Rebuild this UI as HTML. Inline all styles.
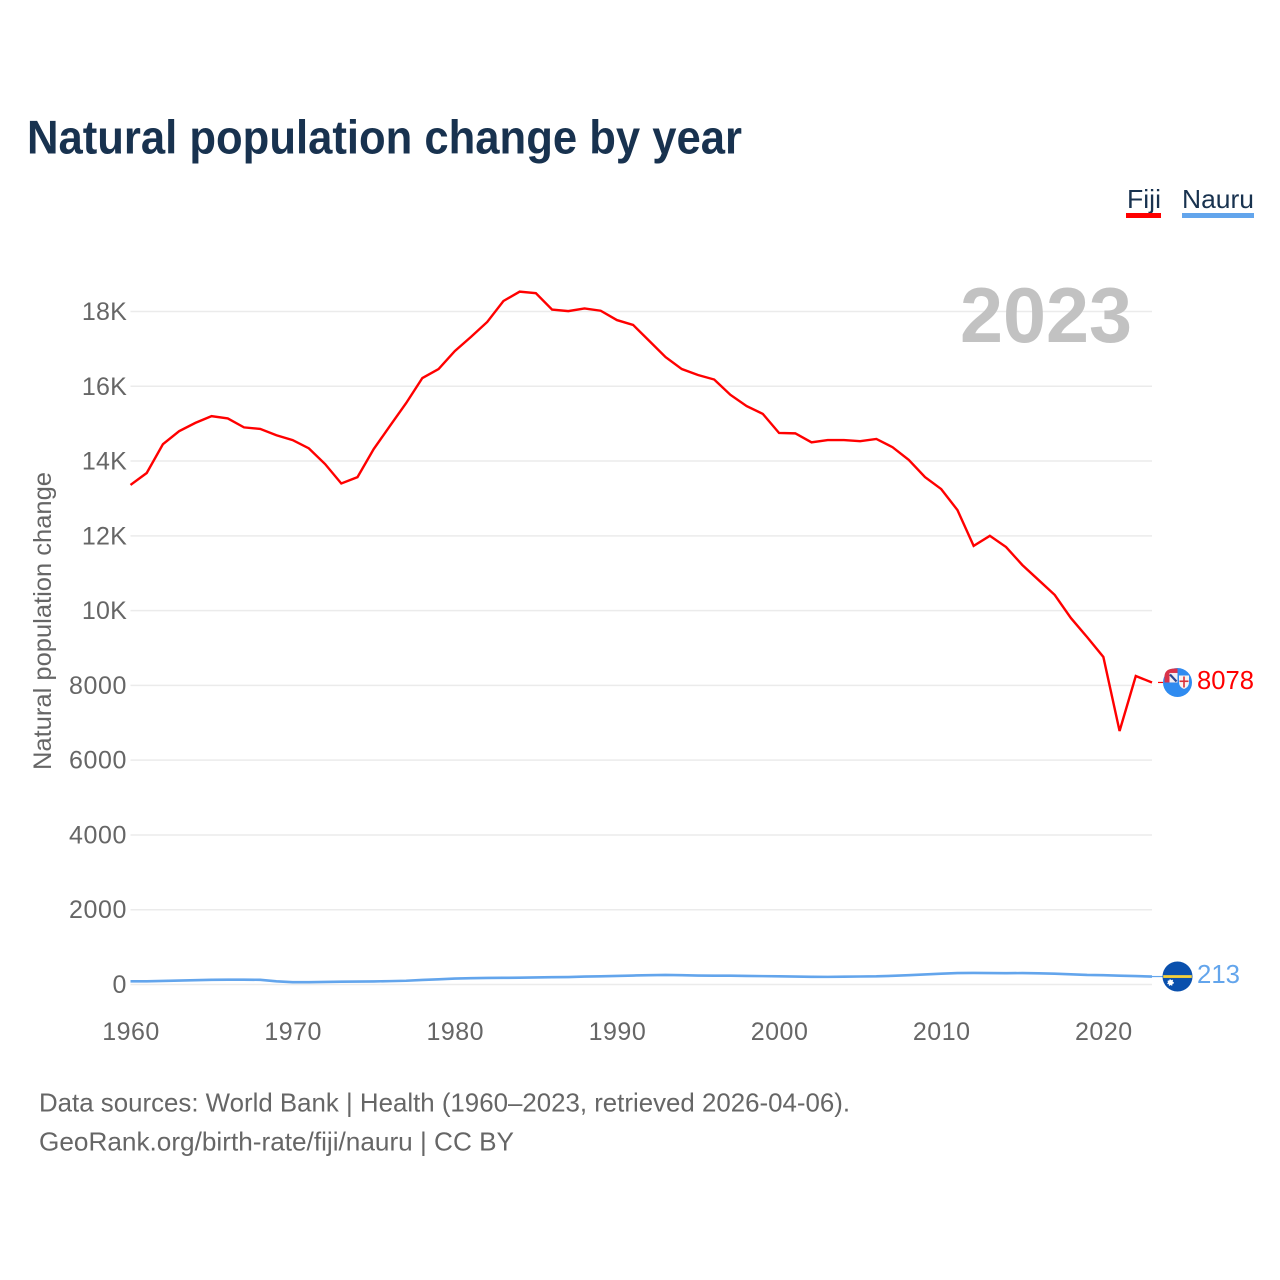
<!DOCTYPE html>
<html lang="en">
<head>
<meta charset="utf-8">
<title>Natural population change by year</title>
<style>
  html, body { margin: 0; padding: 0; background: #fff; }
  svg { display: block; font-family: "Liberation Sans", sans-serif; }
</style>
</head>
<body>
<svg id="chart" xmlns="http://www.w3.org/2000/svg" width="1280" height="1280" viewBox="0 0 1280 1280">
  <rect x="0" y="0" width="1280" height="1280" fill="#ffffff"/>
  <text x="27" y="153.5" font-size="47" font-weight="700" fill="#18324f" textLength="715" lengthAdjust="spacingAndGlyphs">Natural population change by year</text>

  <g>
    <g>
      <text x="1127" y="208" font-size="26" fill="#18324f" textLength="34" lengthAdjust="spacingAndGlyphs">Fiji</text>
      <rect x="1126" y="213" width="35" height="5" fill="#ff0000"/>
    </g>
    <g>
      <text x="1182" y="208" font-size="26" fill="#18324f" textLength="72" lengthAdjust="spacingAndGlyphs">Nauru</text>
      <rect x="1182" y="213" width="72" height="5" fill="#63a5ec"/>
    </g>
  </g>

  <g id="grid"></g>
  <g id="yTicks"></g>
  <g id="xTicks"></g>

  <text transform="translate(51,770) rotate(-90)" x="0" y="0" font-size="25" fill="#666666" textLength="298" lengthAdjust="spacingAndGlyphs">Natural population change</text>

  <text x="1132" y="342" text-anchor="end" font-size="78" font-weight="700" fill="#c2c2c2" textLength="172" lengthAdjust="spacingAndGlyphs">2023</text>

  <g id="series"></g>
  <g id="markers"></g>

  <g>
    <text x="39" y="1111.5" font-size="26" fill="#666666" textLength="811" lengthAdjust="spacingAndGlyphs">Data sources: World Bank | Health (1960–2023, retrieved 2026-04-06).</text>
    <text x="39" y="1150.5" font-size="26" fill="#666666" textLength="475" lengthAdjust="spacingAndGlyphs">GeoRank.org/birth-rate/fiji/nauru | CC BY</text>
  </g>
</svg>

<script>
const firstYear = 1960;
const fijiValues = [13360,13680,14450,14800,15020,15200,15140,14900,14860,14690,14560,14340,13920,13400,13570,14320,14940,15550,16220,16460,16940,17320,17720,18280,18530,18490,18050,18010,18080,18020,17770,17640,17210,16780,16460,16300,16180,15770,15470,15260,14750,14740,14500,14560,14560,14530,14590,14370,14030,13570,13250,12690,11730,12000,11700,11220,10820,10420,9800,9290,8760,6780,8250,8078];
const nauruValues = [85,85,95,105,115,125,130,130,125,85,62,62,68,75,78,83,90,100,122,138,158,168,175,178,182,188,195,200,212,220,230,240,250,255,248,240,236,236,228,224,218,212,206,204,208,214,218,232,250,268,290,305,308,306,302,306,300,288,272,255,248,236,226,213];
const yTickValues = [0,2000,4000,6000,8000,10000,12000,14000,16000,18000];
const yTickLabels = ["0","2000","4000","6000","8000","10K","12K","14K","16K","18K"];
const xTickValues = [1960,1970,1980,1990,2000,2010,2020];

const NS = "http://www.w3.org/2000/svg";
const plotLeft = 130.5, plotRight = 1152, yZero = 984.5, pxPerUnit = 0.03739;
const lastYear = firstYear + fijiValues.length - 1;
function xScale(year) { return plotLeft + (year - firstYear) * (plotRight - plotLeft) / (lastYear - firstYear); }
function yScale(value) { return yZero - value * pxPerUnit; }
function make(tag, attrs, parent) {
  const el = document.createElementNS(NS, tag);
  for (const k in attrs) el.setAttribute(k, attrs[k]);
  parent.appendChild(el);
  return el;
}

const grid = document.getElementById("grid");
const yTicks = document.getElementById("yTicks");
const xTicks = document.getElementById("xTicks");
const seriesG = document.getElementById("series");
const markers = document.getElementById("markers");

yTickValues.forEach(function (v, i) {
  const line = make("line", { x1: plotLeft, x2: plotRight, y1: yScale(v), y2: yScale(v), stroke: "#ebebeb", "stroke-width": 1.5 }, grid);
  
  
  const t = make("text", { x: 127, y: yScale(v) + 8.5, "text-anchor": "end", "font-size": 25, fill: "#666666", "letter-spacing": v < 10000 ? 0.6 : 0.2 }, yTicks);
  
  
  t.textContent = yTickLabels[i];
});

xTickValues.forEach(function (year) {
  const t = make("text", { x: xScale(year) + 0.5, y: 1040, "text-anchor": "middle", "font-size": 25, fill: "#666666", "letter-spacing": 0.5 }, xTicks);
  
  
  t.textContent = year;
});

function linePath(values) {
  return values.map(function (v, i) {
    return (i ? "L" : "M") + xScale(firstYear + i).toFixed(2) + " " + yScale(v).toFixed(2);
  }).join(" ");
}

const fijiLine = make("path", { d: linePath(fijiValues), fill: "none", stroke: "#ff0000", "stroke-width": 2.4, "stroke-linejoin": "miter" }, seriesG);


const nauruLine = make("path", { d: linePath(nauruValues), fill: "none", stroke: "#63a5ec", "stroke-width": 2.6 }, seriesG);



const cx = 1177.5, r = 14.5;

/* Fiji end marker */
const fijiLast = fijiValues[fijiValues.length - 1];
const fy = yScale(fijiLast);
const fijiConn = make("line", { x1: 1158, x2: 1163, y1: fy, y2: fy, stroke: "#ff0000", "stroke-width": 1.2 }, markers);


const fijiFlag = make("g", {}, markers);


const fBase = make("circle", { cx: cx, cy: fy, r: r, fill: "#2f8bf0" }, fijiFlag);
const fCorner = make("path", { d: "M" + (cx - 13) + " " + (fy - 7) + " Q" + (cx - 12) + " " + (fy - 14) + " " + (cx - 3) + " " + (fy - 14) + " L" + cx + " " + (fy - 14) + " L" + cx + " " + fy + " L" + (cx - 13) + " " + fy + " Z", fill: "#d9334a" }, fijiFlag);
const fWhite = make("rect", { x: cx - 8, y: fy - 9.5, width: 8, height: 9.5, fill: "#f2eef2" }, fijiFlag);
const fJack = make("path", { d: "M" + (cx - 7.5) + " " + (fy - 8) + " L" + (cx - 1) + " " + (fy - 1), stroke: "#28448f", "stroke-width": 2.2, fill: "none" }, fijiFlag);
const fShield = make("path", { d: "M" + (cx + 1.5) + " " + (fy - 7) + " h10 v7 q0 4.5 -5 6.5 q-5 -2 -5 -6.5 Z", fill: "#f8f3f0" }, fijiFlag);
const fCrossV = make("rect", { x: cx + 5.7, y: fy - 6, width: 1.6, height: 11, fill: "#d8303a" }, fijiFlag);
const fCrossH = make("rect", { x: cx + 2, y: fy - 2, width: 9, height: 1.6, fill: "#d8303a" }, fijiFlag);
const fijiValue = make("text", { x: 1197, y: fy + 6.5, "font-size": 25.5, fill: "#ff0000", textLength: 57, lengthAdjust: "spacingAndGlyphs" }, markers);


fijiValue.textContent = fijiLast;

/* Nauru end marker */
const nauruLast = nauruValues[nauruValues.length - 1];
const ny = yScale(nauruLast);
const nauruConn = make("line", { x1: 1152, x2: 1163, y1: ny, y2: ny, stroke: "#63a5ec", "stroke-width": 1.2 }, markers);


const nauruFlag = make("g", {}, markers);


const nBase = make("circle", { cx: cx, cy: ny, r: r + 0.5, fill: "#0a50ad" }, nauruFlag);
const nStripe = make("rect", { x: cx - r + 0.2, y: ny - 1.4, width: 2 * r - 0.4, height: 2.8, fill: "#f5cf3a" }, nauruFlag);
const nStar = make("circle", { cx: cx - 7, cy: ny + 6, r: 2.6, fill: "#ffffff", stroke: "#ffffff", "stroke-width": 1.4, "stroke-dasharray": "1.1 1.1" }, nauruFlag);
const nauruValue = make("text", { x: 1197, y: ny + 6.5, "font-size": 25.5, fill: "#63a5ec", textLength: 43, lengthAdjust: "spacingAndGlyphs" }, markers);


nauruValue.textContent = nauruLast;
</script>
</body>
</html>
